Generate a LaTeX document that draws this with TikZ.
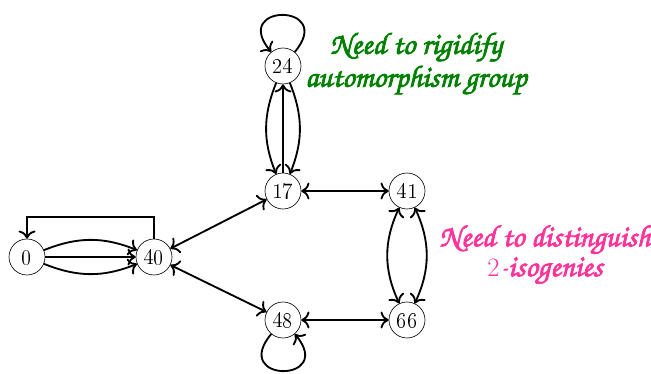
\documentclass[tikz,border=0pt]{standalone}
\usepackage[T1]{fontenc}
\usetikzlibrary{arrows.meta}
\definecolor{rigidgreen}{RGB}{0,128,0}
\definecolor{isopink}{RGB}{255,51,153}
\newcommand{\scriptnote}{\fontfamily{pzc}\fontseries{mb}\fontshape{it}\fontsize{20}{17.5}\selectfont}
% fill and stroke the glyphs so the script face looks heavier
\newcommand{\heavy}[1]{\special{pdf:code 2 Tr 0.5 w}#1\special{pdf:code 0 Tr}}
\begin{document}
\begin{tikzpicture}[x=0.65pt,y=-0.65pt,
  vert/.style={circle,draw,minimum size=23.4pt,inner sep=0pt,font=\fontsize{13.5}{16}\selectfont},
  arc/.style={-{To[scale=1.25]},line width=1.2pt},
  biarc/.style={{To[scale=1.25]}-{To[scale=1.25]},line width=1.2pt},
  selfloop/.style={arc,looseness=7},
  note/.style={align=center,font=\scriptnote}]
\useasboundingbox (0,0) rectangle (651,374);
% vertices
\node[vert] (n0)  at (27,257)  {0};
\node[vert] (n40) at (154,257) {40};
\node[vert] (n17) at (283,191) {17};
\node[vert] (n24) at (283,66)  {24};
\node[vert] (n41) at (407,191) {41};
\node[vert] (n48) at (283,320) {48};
\node[vert] (n66) at (407,320) {66};
% edges from 0 to 40 and back
\draw[arc] (n0) to[bend left=22] (n40);
\draw[arc] (n0) -- (n40);
\draw[arc] (n0) to[bend right=22] (n40);
\draw[arc] (n40.north) -- ++(0,-22) -| (n0.north);
% edges around 40
\draw[biarc] (n40) -- (n17);
\draw[biarc] (n40) -- (n48);
\draw[biarc] (n17) -- (n41);
\draw[biarc] (n48) -- (n66);
% edges between 24 and 17
\draw[arc] (n24) to[bend right=22] (n17);
\draw[arc] (n17) -- (n24);
\draw[arc] (n24) to[bend left=22] (n17);
% edges between 41 and 66
\draw[biarc] (n41) to[bend right=25] (n66);
\draw[biarc] (n41) to[bend left=25] (n66);
% loops
\draw[selfloop] (n24) to[out=50,in=130] (n24);
\draw[selfloop] (n48) to[out=230,in=310] (n48);
% notes
\node[note,text=rigidgreen] (rig) at (416,64) {\heavy{Need to rigidify}\\\heavy{automorphism group}};
\node[note,text=isopink] (iso) at (545,255) {\heavy{Need to distinguish}\\{\fontsize{17}{17}\selectfont$2$}-\heavy{isogenies}};
\end{tikzpicture}
\end{document}
